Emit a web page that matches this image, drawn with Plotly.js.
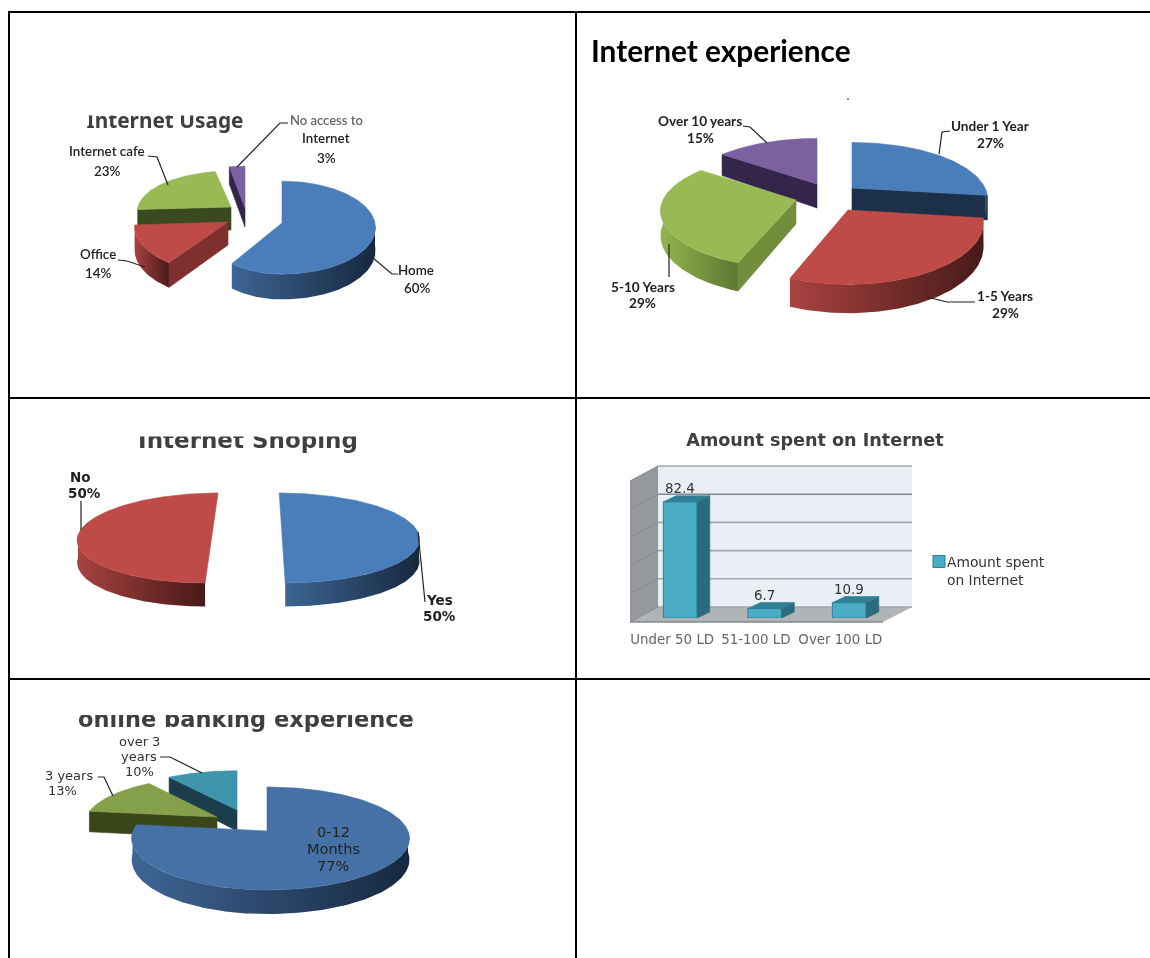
<!DOCTYPE html>
<html>
<head>
<meta charset="utf-8">
<script src="https://cdn.plot.ly/plotly-3.0.1.min.js"></script>
<style>
html,body{margin:0;padding:0;background:#fff;overflow:hidden}
#plot{width:1150px;height:958px}
#plot .cartesianlayer,#plot .infolayer .annotation,#plot .legend{filter:blur(.6px)}
#plot .legend .legendpoints{translate:12px 0}
</style>
</head>
<body>
<div id="plot"></div>
<script>
// ---- data ----
const usageCategories = ['Home', 'Office', 'Internet cafe', 'No access to Internet'];
const usageValues = [60, 14, 23, 3];
const experienceCategories = ['Under 1 Year', '1-5 Years', '5-10 Years', 'Over 10 years'];
const experienceValues = [27, 29, 29, 15];
const shoppingCategories = ['Yes', 'No'];
const shoppingValues = [50, 50];
const bankingCategories = ['0-12 Months', '3 years', 'over 3 years'];
const bankingValues = [77, 13, 10];
const spentCategories = ['Under 50 LD', '51-100 LD', 'Over 100 LD'];
const spentValues = [82.4, 6.7, 10.9];

// ---- palette ----
const BLUE = {top:'#4a7ebb', rim:['#3d6593','#17283f'], cut:'#1c3049'};
const RED = {top:'#be4b48', rim:['#a8423f','#471a19'], cut:'#7e2f2e'};
const GREEN = {top:'#98b954', rim:['#94b450','#5e7732'], cut:'#3b4a1e'};
const GREEN2 = {top:'#98b954', rim:['#94b450','#5e7732'], cut:'#728e3d'};
const PURPLE = {top:'#7d60a0', rim:['#7d60a0','#33264a'], cut:'#33264a'};
const BLUE5 = {top:'#4571a6', rim:['#3f6694','#162840'], cut:'#1c3049'};
const GREEN5 = {top:'#84a04a', rim:['#84a04a','#4a5c26'], cut:'#3a4519'};
const TEAL5 = {top:'#3d94ab', rim:['#3d94ab','#1c3e4c'], cut:'#1c3e4c'};

// ---- pie geometry (projection of each pie, not data) ----
const pies = [
  {values:usageValues, rx:93, ry:46.5, k:.1, depth:23, order:[3,2,1,0],
   slices:[{ax:282,ay:223,c:BLUE,rxL:79},{ax:228,ay:222,c:RED},{ax:231,ay:207,c:GREEN,ry:40},{ax:245,ay:208,c:PURPLE,depth:19}]},
  {values:experienceValues, rx:133, ry:57, k:.2, depth:24, order:[3,2,0,1],
   slices:[{ax:852,ay:188,c:BLUE},{ax:848,ay:210,c:RED,ry:62},{ax:796,ay:200,c:GREEN2},{ax:817,ay:184,c:PURPLE}]},
  {values:shoppingValues, rx:137, ry:45, k:.067, depth:22, order:[1,0],
   slices:[{ax:282,ay:535,c:BLUE,skew:.067},{ax:212,ay:535,c:RED,skew:-.144,rx:134}]},
  {values:bankingValues, rx:141, ry:51.5, k:.146, depth:21, order:[2,1,0],
   slices:[{ax:267,ay:831,c:BLUE5,rxL:134},{ax:217,ay:817,c:GREEN5,rx:131,ry:47},{ax:237,ay:810,c:TEAL5,rx:131,ry:46}]}
];

const traces = [];
function polyTrace(xs, ys, color, gradient, axes) {
  const t = {type:'scatter', mode:'lines', x:xs, y:ys, fill:'toself', hoverinfo:'skip', showlegend:false,
    line:{width:.6, color:gradient ? gradient[1] : color}};
  if (gradient) { t.fillgradient = {type:'horizontal', colorscale:[[0,gradient[0]],[1,gradient[1]]]}; t.line.width = 0; }
  else t.fillcolor = color;
  if (axes) { t.xaxis = axes[0]; t.yaxis = axes[1]; }
  return t;
}
function drawPie(p) {
  const total = p.values.reduce((a,b)=>a+b,0);
  const starts = []; let acc = 0;
  p.values.forEach(v => { starts.push(acc/total*360); acc += v; });
  p.order.forEach(i => {
    const sl = p.slices[i], a0 = starts[i], a1 = a0 + p.values[i]/total*360;
    const depth = sl.depth || p.depth, skew = sl.skew || 0;
    const rx = sl.rx || p.rx, ry = sl.ry || p.ry, rxL = sl.rxL || rx;
    const P = (deg, down) => {
      const r = deg*Math.PI/180, c = Math.cos(r), sn = Math.sin(r), s = 1 - p.k*c;
      const dy = -ry*c*s;
      return [sl.ax + (sn<0?rxL:rx)*sn*s + skew*dy, sl.ay + dy + (down ? depth*s : 0)];
    };
    const arc = (from, to, down) => {
      const out = [], n = Math.max(2, Math.ceil(Math.abs(to-from)));
      for (let j=0;j<=n;j++) out.push(P(from+(to-from)*j/n, down));
      return out;
    };
    const face = (deg) => {
      const e = P(deg,false), eb = P(deg,true);
      const xs = [sl.ax, e[0], eb[0], sl.ax], ys = [sl.ay, e[1], eb[1], sl.ay+depth];
      xs.push(xs[0]); ys.push(ys[0]);
      traces.push(polyTrace(xs, ys, sl.c.cut));
    };
    if (Math.sin(a0*Math.PI/180) < -1e-6) face(a0);
    if (Math.sin(a1*Math.PI/180) > 1e-6) face(a1);
    const r0 = Math.max(a0,90), r1 = Math.min(a1,270);
    if (r1 > r0) {
      const pts = arc(r0,r1,false).concat(arc(r1,r0,true));
      pts.push(pts[0]);
      traces.push(polyTrace(pts.map(q=>q[0]), pts.map(q=>q[1]), null, sl.c.rim));
    }
    const top = [[sl.ax,sl.ay]].concat(arc(a0,a1,false)); top.push(top[0]);
    traces.push(polyTrace(top.map(q=>q[0]), top.map(q=>q[1]), sl.c.top));
  });
}
pies.forEach(drawPie);

// ---- clipped chart titles (text traces so that a crop band can sit over them) ----
const titleFont = (size, family) => ({family: family || 'DejaVu Sans', size, color:'#3f3f3f', weight:700});
[['Internet Usage',165,123,titleFont(20.8,'Noto Sans')],
 ['Internet Shoping',248,442,titleFont(23)],
 ['online banking experience',246,721,titleFont(22.5)],
 ['Amount spent on Internet',815,442,titleFont(17.6)]].forEach(t => {
  traces.push({type:'scatter', mode:'text', x:[t[1]], y:[t[2]], text:[t[0]], textposition:'middle center',
    textfont:t[3], cliponaxis:false, hoverinfo:'skip', showlegend:false});
});

// ---- bar chart: real axes ----
const barCenters = spentCategories.map((_,i)=>i);
const BAR_W = .40, DX = .15, DY = 4.3;
barCenters.forEach((x,i) => {
  const v = spentValues[i], l = x-BAR_W/2, r = x+BAR_W/2;
  traces.push(polyTrace([r,r+DX,r+DX,r,r],[0,DY,v+DY,v,0],'#2c6b7e',null,['x2','y2']));
  traces.push(polyTrace([l,l+DX,r+DX,r,l],[v,v+DY,v+DY,v,v],'#2f7f97',null,['x2','y2']));
});
traces.push({type:'bar', x:barCenters, y:spentValues, width:BAR_W, xaxis:'x2', yaxis:'y2',
  name:'Amount spent<br>on Internet', showlegend:true, hoverinfo:'skip',
  marker:{color:'#4bacc6', line:{color:'#2f7f97', width:1}}});

// ---- labels ----
const pieFont = (size, color, weight, family) => ({family: family||'Lato', size, color: color||'#222', weight: weight||600});
const annotations = [];
function label(text, x, y, font) {
  annotations.push({text, x, y, xref:'x', yref:'y', showarrow:false, xanchor:'center', yanchor:'middle', font});
}
const f1 = pieFont(13.4), f2 = pieFont(13.6,'#222',700), f3 = pieFont(13.5,'#222',700,'DejaVu Sans'),
      f5 = pieFont(13,'#333',400,'DejaVu Sans'), f6 = pieFont(14.5,'#222',400,'DejaVu Sans');
label('No access to',326,120,pieFont(13,'#666',600)); label('Internet',326,138,f1); label('3%',326,158,f1);
label('Internet cafe',107,151,f1); label('23%',107,171,f1);
label('Office',98,254,f1); label('14%',98,273,f1);
label('Home',416,270,f1); label('60%',417,288,f1);
label('Over 10 years',700,121,f2); label('15%',700,138,f2);
label('Under 1 Year',990,126,f2); label('27%',990,143,f2);
label('1-5 Years',1005,296,f2); label('29%',1005,313,f2);
label('5-10 Years',643,287,f2); label('29%',642,303,f2);
label('No',80,477,f3); label('50%',84,493,f3);
label('Yes',439,600,f3); label('50%',439,616,f3);
label('over 3',139,741,f5); label('years',139,756,f5); label('10%',139,771,f5);
label('3 years',69,775,f5); label('13%',62,790,f5);
label('0-12',333,832,f6); label('Months',333,849,f6); label('77%',333,866,f6);
annotations.push({text:'Internet experience', x:589, y:50, xref:'x', yref:'y', xanchor:'left', yanchor:'middle', showarrow:false,
  font:{family:'Lato', size:29.8, color:'#000', weight:700}});
spentValues.forEach((v,i)=>{
  annotations.push({text:String(v), x:barCenters[i], y:v, xref:'x2', yref:'y2', yshift:13, showarrow:false,
    xanchor:'center', yanchor:'middle', font:{family:'DejaVu Sans', size:13.4, color:'#333'}});
});

// ---- decorations: table rules, leader lines, 3-D chart walls ----
const shapes = [];
const rule = (x0,y0,x1,y1) => shapes.push({type:'line',xref:'x',yref:'y',x0,y0,x1,y1,line:{color:'#000',width:2},layer:'above'});
rule(9,12,1150,12); rule(9,398,1150,398); rule(9,679,1150,679); rule(9,11,9,958); rule(576,12,576,958);
const leader = pts => shapes.push({type:'path',xref:'x',yref:'y',layer:'above',line:{color:'#222',width:1.2},
  path:'M'+pts.map(p=>p.join(',')).join('L')});
[[[288,123],[280,123],[237,167]],[[373,258],[392,274],[398,274]],[[148,156],[157,157],[168,185]],[[118,260],[127,261],[145,267]],
 [[743,126],[750,127],[767,143]],[[950,131],[942,132],[939,154]],[[975,302],[947,302],[927,297]],[[669,244],[669,277]],[[847,99],[849,99]],
 [[81,501],[81,530]],[[418,532],[425,602]],
 [[98,777],[104,777],[113,796]],[[160,757],[170,757],[202,773]]].forEach(leader);
const poly = (pts,fill,layer) => shapes.push({type:'path',xref:'x',yref:'y',layer:layer||'below',fillcolor:fill,line:{width:0},
  path:'M'+pts.map(p=>p.join(',')).join('L')+'Z'});
poly([[658,466],[912,466],[912,607],[658,607]],'#e9eff5');
poly([[630,481],[658,466],[658,607],[630,622]],'#95989c');
poly([[630,622],[658,607],[912,607],[883,622]],'#b0b4b7');
[0,1,2,3,4,5].forEach(i=>{
  const y = 607-i*28.2;
  shapes.push({type:'line',xref:'x',yref:'y',layer:'below',x0:658,x1:912,y0:y,y1:y,line:{color:i===4?'#85898d':'#a3a7ab',width:1.6}});
  shapes.push({type:'line',xref:'x',yref:'y',layer:'below',x0:630,x1:658,y0:y+15,y1:y,line:{color:'#85898d',width:1}});
});
shapes.push({type:'line',xref:'x',yref:'y',layer:'below',x0:630,x1:883,y0:622,y1:622,line:{color:'#85898d',width:1.4}});
// crop bands: the source picture cuts the tops of three chart titles
[[60,100,270,115.5],[120,424,375,436.5],[60,700,430,715]].forEach(b =>
  shapes.push({type:'rect',xref:'x',yref:'y',layer:'above',x0:b[0],y0:b[1],x1:b[2],y1:b[3],fillcolor:'#fff',line:{width:0}}));
// the source picture also crops the right edge of the lower "50%"
shapes.push({type:'rect',xref:'x',yref:'y',layer:'above',x0:453.5,y0:592,x1:470,y1:626,fillcolor:'#fff',line:{width:0}});

const px = y => 1 - y/958;
const layout = {
  width:1150, height:958, margin:{l:0,r:0,t:0,b:0}, paper_bgcolor:'#fff', plot_bgcolor:'rgba(0,0,0,0)',
  showlegend:true, hovermode:false,
  legend:{x:915/1150, y:px(546), xanchor:'left', yanchor:'top', bgcolor:'rgba(0,0,0,0)', valign:'top', indentation:-8,
    font:{family:'DejaVu Sans', size:13.8, color:'#333'}, itemwidth:30},
  xaxis:{range:[0,1150], domain:[0,1], visible:false, fixedrange:true},
  yaxis:{range:[958,0], domain:[0,1], visible:false, fixedrange:true},
  xaxis2:{domain:[638/1150,891.5/1150], range:[-.5,2.5], anchor:'y2', showgrid:false, zeroline:false, showline:false, ticks:'',
    tickmode:'array', tickvals:barCenters.map((c,i)=>c+[-.095,-.105,-.105][i]), ticktext:spentCategories,
    tickfont:{family:'DejaVu Sans', size:13.4, color:'#666'}, ticklabelstandoff:12, fixedrange:true},
  yaxis2:{domain:[px(618),px(477)], range:[0,100], anchor:'x2', showgrid:false, zeroline:false, showticklabels:false, ticks:'', fixedrange:true},
  shapes, annotations
};
Plotly.newPlot('plot', traces, layout, {displayModeBar:false, staticPlot:true});
</script>
</body>
</html>
